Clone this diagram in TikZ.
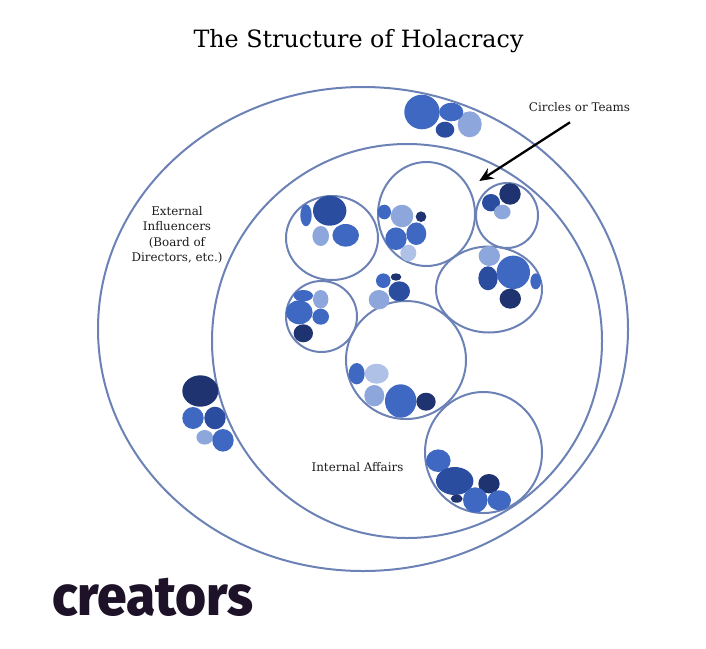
\documentclass[tikz,border=0pt]{standalone}
\usepackage{fontspec}
\setmainfont{DejaVu Serif}
\newfontfamily\logofont{Fira Sans}[UprightFont=* ExtraBold]
\definecolor{ringc}{HTML}{6C82B6}
\definecolor{midc}{HTML}{3F68C3}
\definecolor{deepc}{HTML}{2B4D9F}
\definecolor{navyc}{HTML}{1F3370}
\definecolor{lightc}{HTML}{8DA6DC}
\definecolor{paleC}{HTML}{B0C1E7}
\definecolor{logoc}{HTML}{1E1228}
\definecolor{inkc}{HTML}{1C1C1C}
\newcommand{\blob}[5]{\fill[#1] (#2,#3) ellipse [x radius=#4, y radius=#5];}
\newcommand{\ring}[4]{\draw[ringline] (#1,#2) ellipse [x radius=#3, y radius=#4];}
\usetikzlibrary{arrows.meta}
\tikzset{
  ringline/.style={draw=ringc,line width=2pt},
  lbl/.style={text=inkc,font=\fontsize{11.9}{15.3}\selectfont,align=center,inner sep=0pt},
  pointer/.style={-{Stealth[length=14pt,width=12pt]},line width=2.3pt,black},
}
\begin{document}
\begin{tikzpicture}[x=1pt,y=-1pt]
\useasboundingbox (0,0) rectangle (706,648);
\ring{363}{329}{265}{242}
\ring{407}{341}{195}{197}
\ring{332}{238}{46}{42}
\ring{426.5}{214}{48.5}{52}
\ring{507}{215.5}{31}{32.5}
\ring{489}{289.5}{53}{43}
\ring{321.5}{316.5}{35.5}{35.5}
\ring{406}{360}{60}{59}
\ring{483.5}{452.5}{58.5}{60.5}
% team A
\blob{midc}{306}{215.3}{5.7}{11}
\blob{deepc}{329.7}{210.7}{16.7}{15}
\blob{lightc}{320.7}{236}{8.3}{10}
\blob{midc}{345.7}{235.3}{13.3}{11.3}
% team B
\blob{midc}{384.3}{212}{6.7}{7.3}
\blob{lightc}{402}{216}{11.3}{11.3}
\blob{navyc}{421}{216.7}{5.3}{5.3}
\blob{paleC}{408.3}{253}{8}{8.3}
\blob{midc}{396}{238.7}{10.7}{11.3}
\blob{midc}{416.3}{233.7}{10}{11.3}
% team C
\blob{navyc}{510}{194}{10.7}{10.7}
\blob{deepc}{491}{202.7}{9}{8.7}
\blob{lightc}{502.3}{212}{8.3}{7.3}
% team D
\blob{lightc}{489.3}{256}{10.7}{10}
\blob{deepc}{488}{278.3}{9.7}{12}
\blob{midc}{513.3}{272.3}{16.7}{16.7}
\blob{navyc}{510.3}{298.7}{10.7}{10}
\blob{midc}{535.7}{281.3}{5.3}{8}
% team E
\blob{lightc}{320.7}{299.3}{7.7}{9.3}
\blob{midc}{303.3}{295.7}{9.7}{5.7}
\blob{midc}{299.3}{312.3}{13.3}{12}
\blob{midc}{320.7}{316.7}{8.3}{8}
\blob{navyc}{303.3}{333.3}{9.7}{9}
% free cluster
\blob{midc}{383.3}{280.7}{7.3}{7.3}
\blob{navyc}{396}{277}{5.3}{3.7}
\blob{lightc}{379}{299.7}{10.3}{9.7}
\blob{deepc}{399.3}{291.3}{10.7}{10}
% team F
\blob{midc}{356.7}{373.7}{8}{10.7}
\blob{paleC}{376.7}{373.7}{12}{10}
\blob{lightc}{374.3}{395.7}{10}{10.7}
\blob{midc}{400.7}{401}{15.7}{16.7}
\blob{navyc}{426}{401.7}{9.7}{9}
% team G
\blob{midc}{438.3}{460.7}{12.3}{11.3}
\blob{deepc}{454.7}{481}{18.7}{14}
\blob{navyc}{489}{483.7}{10.7}{9.7}
\blob{navyc}{456.7}{498.7}{6}{4}
\blob{midc}{499.3}{500.3}{11.7}{10}
\blob{midc}{475.3}{500}{12.3}{12.7}
% top cluster
\blob{midc}{422}{112}{17.7}{17.3}
\blob{lightc}{469.7}{124.3}{12}{13}
\blob{midc}{451.3}{112}{12}{9.3}
\blob{deepc}{445}{129.7}{9.3}{8}
% left cluster
\blob{navyc}{200.3}{391}{18}{15.7}
\blob{midc}{193}{418}{10.7}{11}
\blob{deepc}{215}{418}{10.7}{11.3}
\blob{lightc}{204.7}{437.3}{8.3}{7.3}
\blob{midc}{223}{440.3}{10.7}{11.3}
% texts
\node[inner sep=0pt,font=\fontsize{23.8}{26}\selectfont,text=black] (title) at (358.5,41) {The Structure of Holacracy};
\node[lbl] (ext) at (177,235) {External\\Influencers\\(Board of\\Directors, etc.)};
\node[lbl] (int) at (357.5,467) {Internal Affairs};
\node[lbl] (teams) at (579.5,107) {Circles or Teams};
\node[inner sep=0pt,text=logoc,font=\logofont\fontsize{56}{56}\selectfont,xscale=0.95] (logo) at (153,597) {creators};
\coordinate (arrowstart) at (570,122.3);
\coordinate (arrowend) at (479.3,181);
\draw[pointer] (arrowstart) -- (arrowend);
\end{tikzpicture}
\end{document}
